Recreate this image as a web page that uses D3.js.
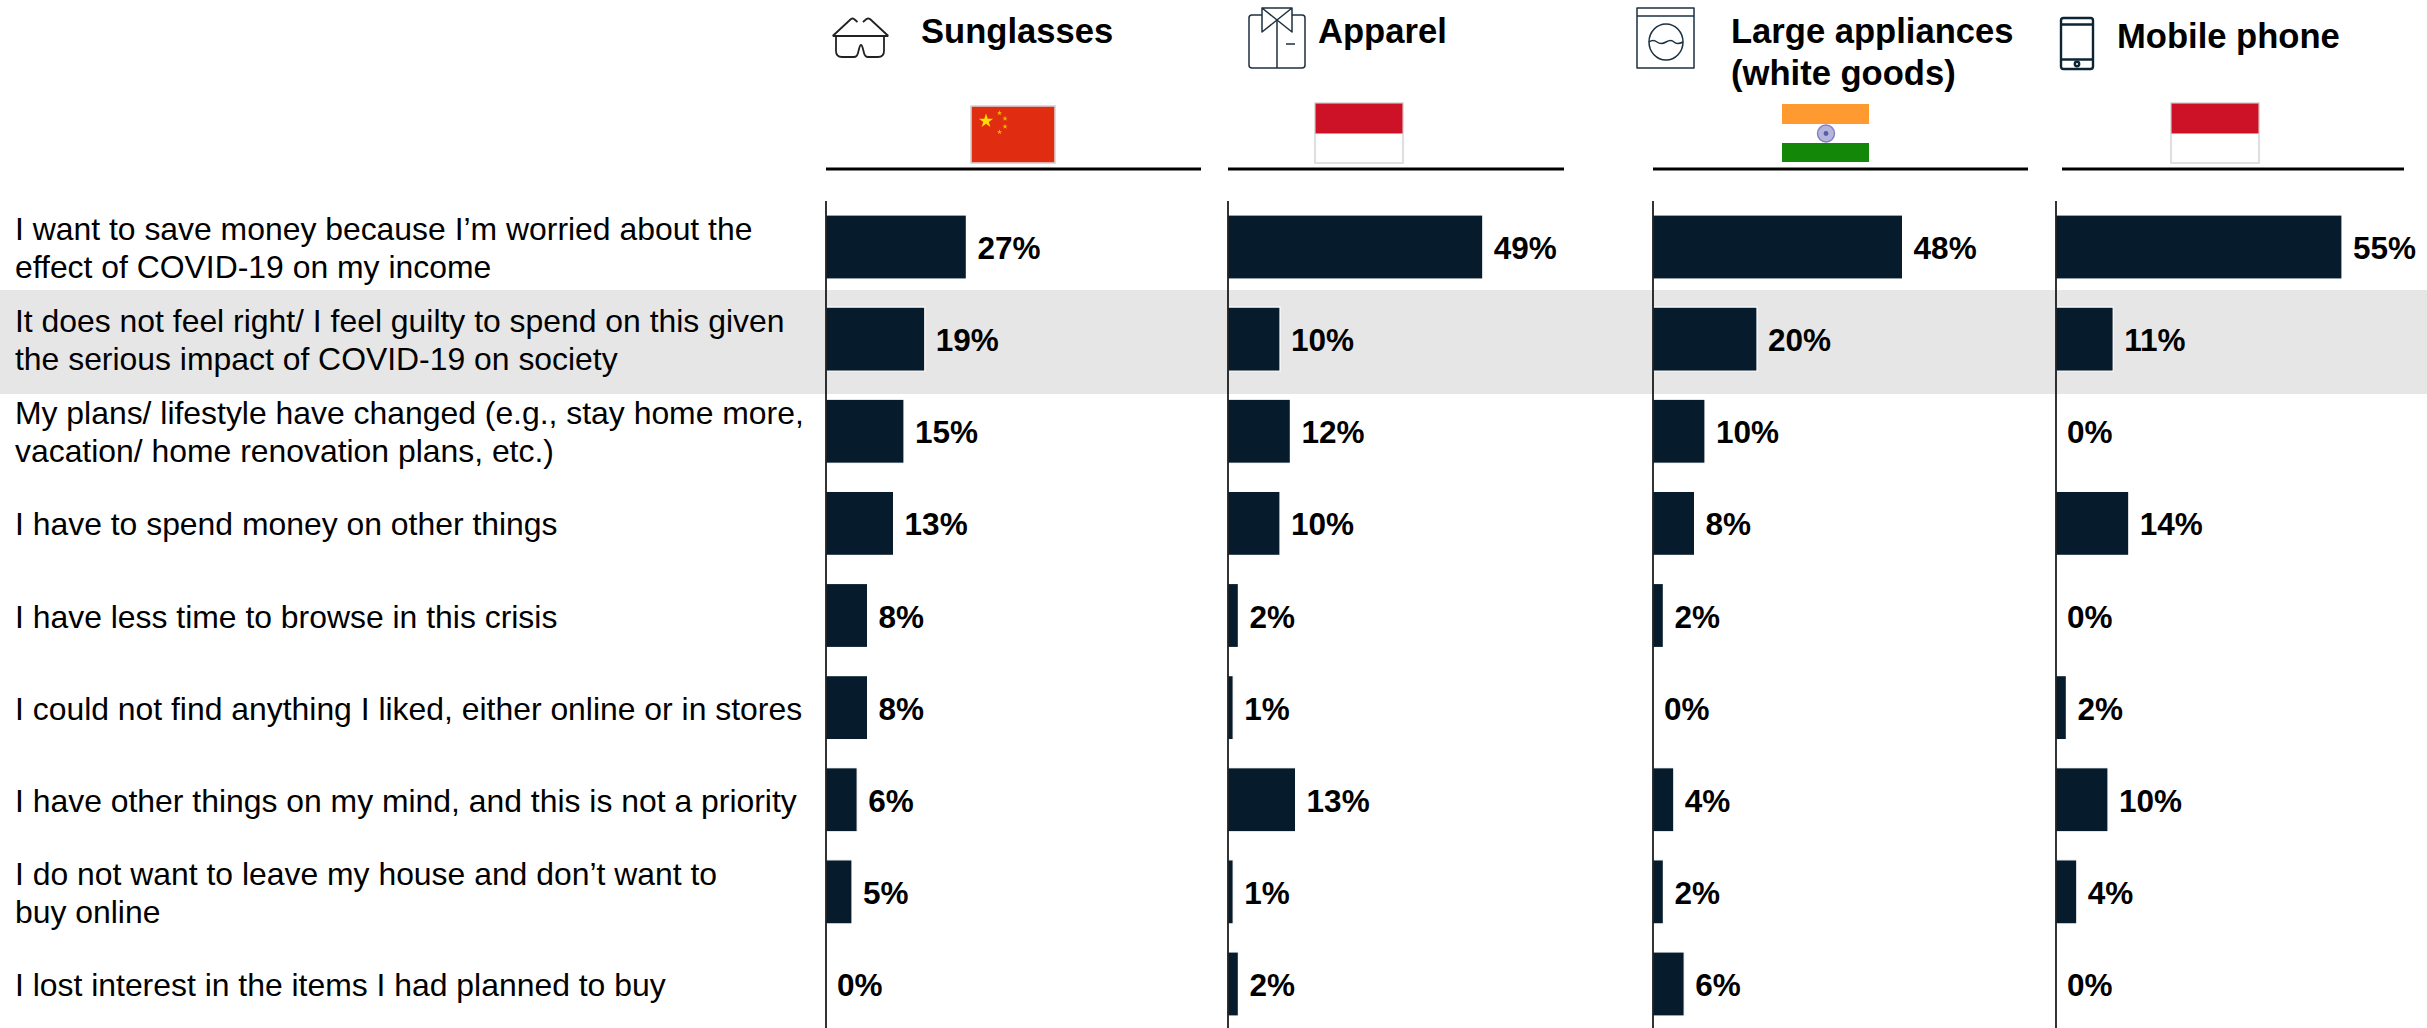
<!DOCTYPE html>
<html>
<head>
<meta charset="utf-8">
<script src="https://cdn.jsdelivr.net/npm/d3@7"></script>
<style>
  html, body { margin: 0; padding: 0; background: #fff; }
  svg { display: block; }
  text { font-family: "Liberation Sans", Arial, sans-serif; fill: #000; }
</style>
</head>
<body>
<svg id="chart" width="2427" height="1028"></svg>
<script>
// Reasons for not purchasing, by product category and market
const reasons = [
  ["I want to save money because I’m worried about the", "effect of COVID-19 on my income"],
  ["It does not feel right/ I feel guilty to spend on this given", "the serious impact of COVID-19 on society"],
  ["My plans/ lifestyle have changed (e.g., stay home more,", "vacation/ home renovation plans, etc.)"],
  ["I have to spend money on other things"],
  ["I have less time to browse in this crisis"],
  ["I could not find anything I liked, either online or in stores"],
  ["I have other things on my mind, and this is not a priority"],
  ["I do not want to leave my house and don’t want to", "buy online"],
  ["I lost interest in the items I had planned to buy"]
];
const sunglasses = [27, 19, 15, 13, 8, 8, 6, 5, 0];
const apparel = [49, 10, 12, 10, 2, 1, 13, 1, 2];
const appliances = [48, 20, 10, 8, 2, 0, 4, 2, 6];
const mobile = [55, 11, 0, 14, 0, 2, 10, 4, 0];

const columns = [
  { title: ["Sunglasses"], values: sunglasses, axisX: 826, ruleEnd: 1201, titleX: 921, titleY: 43, flag: "china", flagX: 971, icon: "glasses" },
  { title: ["Apparel"], values: apparel, axisX: 1228, ruleEnd: 1564, titleX: 1318, titleY: 43, flag: "indonesia", flagX: 1315, icon: "shirt" },
  { title: ["Large appliances", "(white goods)"], values: appliances, axisX: 1653, ruleEnd: 2028, titleX: 1731, titleY: 43, flag: "india", flagX: 1782, icon: "washer" },
  { title: ["Mobile phone"], values: mobile, axisX: 2056, ruleStart: 2062, ruleEnd: 2404, titleX: 2117, titleY: 48, flag: "indonesia", flagX: 2171, icon: "phone" }
];

const svg = d3.select("#chart");
const ink = "#061c2c";

const y = d3.scaleBand()
  .domain(d3.range(reasons.length))
  .range([215, 1016])
  .paddingInner(0.305)
  .paddingOuter(0);
const x = d3.scaleLinear().domain([0, 1]).range([0, 5.2]);
const rowCenter = i => y(i) + y.bandwidth() / 2;

// Five-pointed star path centred on the origin
function star(r) {
  const pts = d3.range(10).map(k => {
    const a = -Math.PI / 2 + k * Math.PI / 5;
    const rad = k % 2 ? r * 0.38 : r;
    return [rad * Math.cos(a), rad * Math.sin(a)];
  });
  return d3.line()(pts) + "Z";
}

const drawFlag = {
  china(g) {
    g.append("rect").attr("x", 0).attr("y", 106).attr("width", 84).attr("height", 57)
      .attr("fill", "#e02c10").attr("stroke", "#d4d4d4").attr("stroke-width", 1.6);
    g.append("path").attr("d", star(7.5)).attr("transform", "translate(15,121)").attr("fill", "#ffde00");
    [[28.5, 113], [34, 118.5], [34, 126.5], [28.5, 132]].forEach(p =>
      g.append("path").attr("d", star(2.8)).attr("transform", `translate(${p})`).attr("fill", "#f5b800"));
  },
  indonesia(g) {
    g.append("rect").attr("x", 0).attr("y", 103).attr("width", 88).attr("height", 60)
      .attr("fill", "#fff").attr("stroke", "#d8d8d8").attr("stroke-width", 1.6);
    g.append("rect").attr("x", 0.5).attr("y", 103.5).attr("width", 87).attr("height", 30)
      .attr("fill", "#cd1127");
  },
  india(g) {
    g.append("rect").attr("y", 104).attr("width", 87).attr("height", 20).attr("fill", "#ff9a30");
    g.append("rect").attr("y", 143).attr("width", 87).attr("height", 19).attr("fill", "#138808");
    g.append("circle").attr("cx", 44).attr("cy", 133.5).attr("r", 8.5)
      .attr("fill", "#b4b4dc").attr("stroke", "#7f7fc4").attr("stroke-width", 1.4);
    g.append("circle").attr("cx", 44).attr("cy", 133.5).attr("r", 2.4).attr("fill", "#5a5aa8");
  }
};

const drawIcon = {
  glasses(g) {
    g.attr("stroke", "#222").attr("stroke-width", 1.8);
    g.append("path").attr("d", "M832.700 36L851 19Q852.500 18 854 19L857.500 22M863 22L866.500 19Q868 18 870 19L888.300 36M832.700 36H888.300");
    g.append("path").attr("d", "M836 36V51Q836 57 842 57H854Q857 57 858 53L859 49Q860 45 861 45Q862 45 863 49L864 53Q865 57 868 57H878Q884 57 884 51V36");
  },
  shirt(g) {
    g.attr("stroke", "#1c3040").attr("stroke-width", 1.5);
    g.append("path").attr("d", "M1262 15H1252Q1249 15 1249 18V65Q1249 68 1252 68H1302Q1305 68 1305 65V18Q1305 15 1302 15H1292");
    g.append("path").attr("d", "M1262 8H1292V32L1262 8V32L1292 8");
    g.append("path").attr("d", "M1277 20V68M1286 44H1295");
  },
  washer(g) {
    g.attr("stroke", "#1c3040").attr("stroke-width", 1.5);
    g.append("rect").attr("x", 1637).attr("y", 8).attr("width", 57).attr("height", 60);
    g.append("path").attr("d", "M1637 16H1694");
    g.append("ellipse").attr("cx", 1666).attr("cy", 42).attr("rx", 17).attr("ry", 18);
    g.append("path").attr("d", "M1649 42Q1653 39 1657 42T1666 42T1674 42T1683 42");
  },
  phone(g) {
    g.attr("stroke", "#0c2434").attr("stroke-width", 2.4);
    g.append("rect").attr("x", 2061).attr("y", 18).attr("width", 32).attr("height", 51).attr("rx", 2.5);
    g.append("path").attr("d", "M2061 24.500H2093M2061 59.500H2093");
    g.append("circle").attr("cx", 2077).attr("cy", 64).attr("r", 2.2);
  }
};

// Highlight band behind one reason
svg.append("rect")
  .attr("x", 0).attr("width", 2427)
  .attr("y", 290).attr("height", 104)
  .attr("fill", "#e6e6e6");

// Reason labels
const labels = svg.selectAll("text.reason").data(reasons).join("text")
  .attr("class", "reason")
  .attr("font-size", 31.900);
labels.each(function (lines, i) {
  const first = rowCenter(i) - (lines.length - 1) * 19 + 12;
  d3.select(this).selectAll("tspan").data(lines).join("tspan")
    .attr("x", 15)
    .attr("y", (d, k) => first + k * 38)
    .text(d => d);
});

// One panel per product category
columns.forEach(col => {
  const g = svg.append("g");

  g.append("line")
    .attr("x1", col.ruleStart || col.axisX).attr("x2", col.ruleEnd)
    .attr("y1", 169).attr("y2", 169)
    .attr("stroke", "#000").attr("stroke-width", 3);

  g.selectAll("rect.bar").data(col.values).join("rect")
    .attr("class", "bar")
    .attr("x", col.axisX)
    .attr("y", (d, i) => y(i))
    .attr("width", d => x(d))
    .attr("height", y.bandwidth())
    .attr("fill", ink)
    .attr("stroke", d => d > 0 ? "#fff" : "none")
    .attr("stroke-width", 1.2);

  g.append("line")
    .attr("x1", col.axisX).attr("x2", col.axisX)
    .attr("y1", 201).attr("y2", 1028)
    .attr("stroke", "#000").attr("stroke-width", 1.6);

  g.selectAll("text.value").data(col.values).join("text")
    .attr("class", "value")
    .attr("x", d => col.axisX + x(d) + 11)
    .attr("y", (d, i) => rowCenter(i) + 12)
    .attr("font-size", 31.5)
    .attr("font-weight", "bold")
    .text(d => d + "%");

  g.selectAll("text.title").data(col.title).join("text")
    .attr("class", "title")
    .attr("x", col.titleX)
    .attr("y", (d, i) => col.titleY + i * 42)
    .attr("font-size", 34.6)
    .attr("font-weight", "bold")
    .text(d => d);

  drawFlag[col.flag](g.append("g").attr("transform", `translate(${col.flagX},0)`));
  drawIcon[col.icon](g.append("g")
    .attr("fill", "none")
    .attr("stroke-linejoin", "round"));
});
</script>
</body>
</html>
